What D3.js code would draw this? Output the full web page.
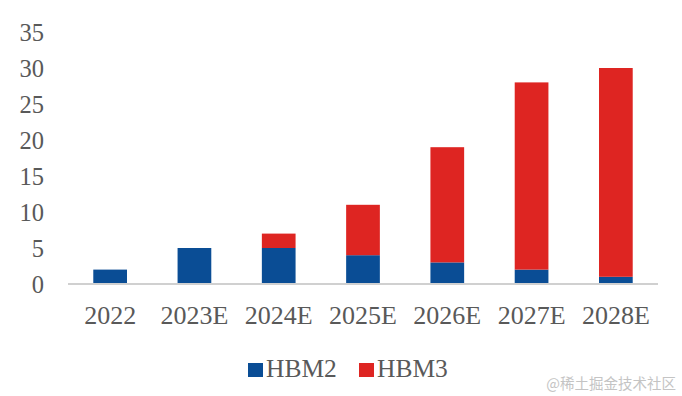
<!DOCTYPE html>
<html>
<head>
<meta charset="utf-8">
<script src="https://cdn.jsdelivr.net/npm/d3@7"></script>
<style>
  body { margin: 0; background: #fff; }
  svg text { font-family: "Liberation Serif", "Times New Roman", serif; fill: #595959; }
</style>
</head>
<body>
<svg id="chart"></svg>
<script>
// data
var years = ["2022", "2023E", "2024E", "2025E", "2026E", "2027E", "2028E"];
var hbm2 = [2, 5, 5, 4, 3, 2, 1];
var hbm3 = [0, 0, 2, 7, 16, 26, 29];
var seriesNames = ["HBM2", "HBM3"];
var yTicks = [0, 5, 10, 15, 20, 25, 30, 35];

var colors = { HBM2: "#0a4d95", HBM3: "#de2522" };

var w = 682;
var h = 396;

var rows = years.map(function(y, i) {
    return { year: y, HBM2: hbm2[i], HBM3: hbm3[i] };
});

var svg = d3.select("#chart")
    .attr("width", w)
    .attr("height", h);

// scales
var xScale = d3.scaleBand()
    .domain(years)
    .range([68, 658])
    .paddingInner(0.6)
    .paddingOuter(0.3);

var yScale = d3.scaleLinear()
    .domain([0, 35])
    .range([284, 32]);

// y tick labels (no axis line)
var yAxis = d3.axisLeft(yScale)
    .tickValues(yTicks)
    .tickSize(0)
    .tickPadding(0);

var yG = svg.append("g")
    .attr("transform", "translate(44,0)")
    .call(yAxis);
yG.select(".domain").remove();
yG.selectAll("text")
    .attr("font-size", "24.5px")
    .attr("dy", "0.34em")
    .style("font-family", "'Liberation Serif', serif")
    .attr("fill", "#595959");

// stacked bars
var stack = d3.stack().keys(seriesNames);
var layers = stack(rows);

svg.append("g")
    .selectAll("g")
    .data(layers)
    .enter()
    .append("g")
    .attr("fill", function(d) { return colors[d.key]; })
    .selectAll("rect")
    .data(function(d) { return d; })
    .enter()
    .append("rect")
    .attr("x", function(d) { return xScale(d.data.year); })
    .attr("y", function(d) { return yScale(d[1]); })
    .attr("width", xScale.bandwidth())
    .attr("height", function(d) { return yScale(d[0]) - yScale(d[1]); });

// x axis
var xAxis = d3.axisBottom(xScale)
    .tickSize(0)
    .tickPadding(0);

var xG = svg.append("g")
    .attr("transform", "translate(0," + yScale(0) + ")")
    .call(xAxis);
xG.select(".domain")
    .attr("stroke", "#d0d0d0")
    .attr("stroke-width", 2)
    .attr("d", "M68,0H658");
xG.selectAll("text")
    .attr("font-size", "26px")
    .attr("y", 40)
    .attr("dy", 0)
    .style("font-family", "'Liberation Serif', serif")
    .attr("fill", "#595959");

// legend
var legendX = [248, 359];
var legend = svg.append("g")
    .selectAll("g")
    .data(seriesNames)
    .enter()
    .append("g")
    .attr("transform", function(d, i) { return "translate(" + legendX[i] + ",363)"; });

legend.append("rect")
    .attr("width", 15)
    .attr("height", 14)
    .attr("fill", function(d) { return colors[d]; });

legend.append("text")
    .attr("x", 18)
    .attr("y", 14)
    .attr("font-size", "25.5px")
    .text(function(d) { return d; });

// watermark
svg.append("text")
    .attr("x", 676)
    .attr("y", 389)
    .attr("text-anchor", "end")
    .attr("font-size", "14.5px")
    .style("font-family", "Noto Sans CJK SC, sans-serif")
    .style("fill", "#c4c4c4")
    .text("@稀土掘金技术社区");
</script>
</body>
</html>
